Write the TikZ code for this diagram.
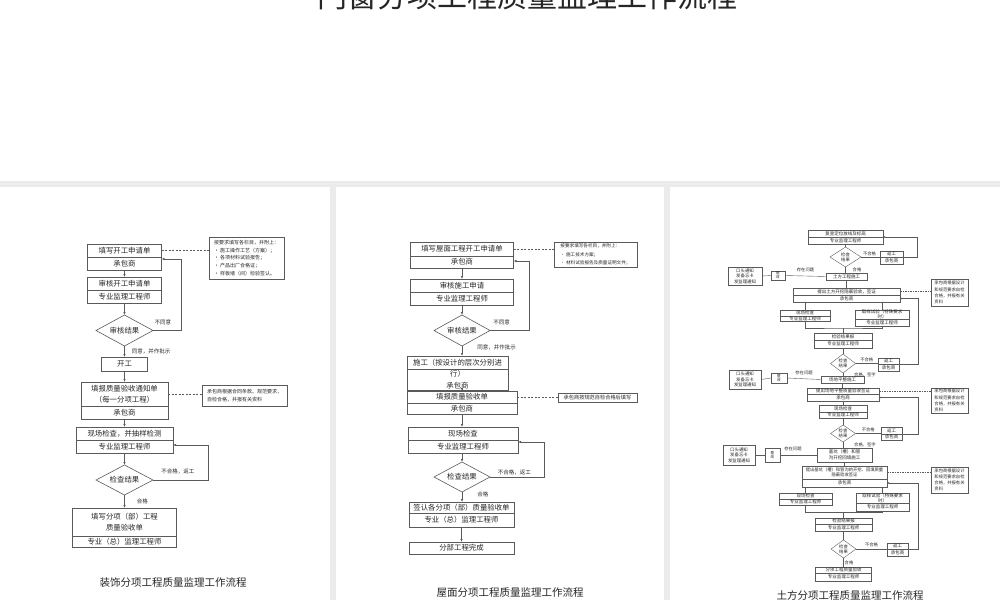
\documentclass[tikz,border=0pt]{standalone}
\usepackage{fontspec}
\setmainfont{Noto Sans CJK SC}
\usepackage{tikz}
\usetikzlibrary{positioning,shapes.geometric,arrows.meta}
\definecolor{lc}{HTML}{5A5A5A}
\definecolor{tc}{HTML}{262626}
\definecolor{sepgray}{HTML}{EBEBEB}
\newcommand{\bxfont}{\fontsize{7.4}{11}\selectfont}
\newcommand{\ntfont}{\fontsize{5}{7.6}\selectfont}
\newcommand{\lbfont}{\fontsize{5.5}{6}\selectfont}
\newcommand{\sbfont}{\fontsize{4.5}{5.5}\selectfont}
\newcommand{\slfont}{\fontsize{4.3}{4.8}\selectfont}
\newcommand{\ttlfont}{\fontsize{10.5}{12}\selectfont}

\begin{document}
\begin{tikzpicture}[x=1pt, y=-1pt,
    box/.style = {draw=lc, line width=0.6pt, inner sep=0pt, outer sep=0pt, align=center, font=\bxfont, text=tc},
    sbox/.style = {box, line width=0.4pt, font=\sbfont},
    dia/.style = {diamond, aspect=2, draw=lc, line width=0.6pt, inner sep=0pt, outer sep=0pt, align=center, font=\bxfont, text=tc},
    sdia/.style = {dia, aspect=1.3, line width=0.4pt, font=\slfont},
    note/.style = {box, align=left, font=\ntfont},
    snote/.style = {sbox, align=left, font=\fontsize{4.3}{6.2}\selectfont},
    lbl/.style = {inner sep=0pt, font=\lbfont, text=tc},
    slbl/.style = {inner sep=0pt, font=\slfont, text=tc},
    arr/.style = {draw=lc, line width=0.6pt, -{Latex[length=3pt, width=2.4pt]}},
    sline/.style = {draw=lc, line width=0.4pt},
    sarr/.style = {sline, -{Latex[length=2.2pt, width=2pt]}},
    dline/.style = {draw=lc, line width=0.4pt, dash pattern=on 2pt off 1.5pt},
    sdline/.style = {dline, dash pattern=on 1.5pt off 1pt},
    ttl/.style = {inner sep=0pt, font=\ttlfont, text=tc}
  ]

  \useasboundingbox (0,0) rectangle (1000,600);

  % page title and separators
  \node[ttl, font=\fontsize{30}{32}\selectfont, anchor=base] (title) at (527,7) {门窗分项工程质量监理工作流程};
  \fill[sepgray] (0,181) rectangle (1000,187);
  \fill[sepgray] (330,181) rectangle (336,600);
  \fill[sepgray] (664,181) rectangle (670,600);

  % ---------------- 装饰 ----------------
  \node[box, minimum width=74, minimum height=13] (p1a) at (124.5,250.5) {填写开工申请单};
  \node[box, minimum width=74, minimum height=13, below=0pt of p1a] (p1ab) {承包商};
  \node[box, minimum width=74, minimum height=13] (p1b) at (124.5,283.5) {审核开工申请单};
  \node[box, minimum width=74, minimum height=13, below=0pt of p1b] (p1bb) {专业监理工程师};
  \node[dia, minimum width=57, minimum height=31] (p1d1) at (124.5,330.5) {审核结果};
  \node[box, minimum width=46, minimum height=14] (p1c) at (124.5,364) {开工};
  \node[box, minimum width=87, minimum height=24] (p1e) at (124.5,394) {填报质量验收通知单\\（每一分项工程）};
  \node[box, minimum width=87, minimum height=13, below=0pt of p1e] (p1eb) {承包商};
  \node[box, minimum width=97, minimum height=13] (p1f) at (124.5,433.5) {现场检查，并抽样检测};
  \node[box, minimum width=97, minimum height=13, below=0pt of p1f] (p1fb) {专业监理工程师};
  \node[dia, minimum width=57, minimum height=30] (p1d2) at (124.5,480) {检查结果};
  \node[box, minimum width=104, minimum height=28] (p1g) at (124.5,522) {填写分项（部）工程\\质量验收单};
  \node[box, minimum width=104, minimum height=11, below=0pt of p1g] (p1gb) {专业（总）监理工程师};
  \node[note, minimum width=75, minimum height=42] (p1n1) at (246.5,258) {按要求填写各栏目，并附上：\\• 施工操作工艺（方案）；\\• 各项材料试验报告；\\• 产品出厂合格证；\\• 样板墙（间）检验签认。};
  \node[note, minimum width=85, minimum height=21, font=\fontsize{5}{8}\selectfont] (p1n2) at (244.5,395.5) {承包商根据合同条款、规范要求，\\自检合格，并报有关资料};
  \node[ttl] (p1t) at (173,583) {装饰分项工程质量监理工作流程};

  \coordinate (p1k1) at (181,259);
  \coordinate (p1k2) at (208,445);
  \draw[arr] (p1ab.south) -- (p1b.north);
  \draw[arr] (p1bb.south) -- (p1d1.north);
  \draw[arr] (p1d1.south) -- node[lbl, right=7pt] {同意，并作批示} (p1c.north);
  \draw[arr] (p1d1.east) -- node[lbl, above=5pt, pos=0.35] {不同意} (p1d1.east -| p1k1) -- (p1k1) -- (p1ab.east |- p1k1);
  \draw[arr] (p1c.south) -- (p1e.north);
  \draw[arr] (p1eb.south) -- (p1f.north);
  \draw[arr] (p1fb.south) -- (p1d2.north);
  \draw[arr] (p1d2.east) -- node[lbl, above=6pt, pos=0.45] {不合格，返工} (p1d2.east -| p1k2) -- (p1k2) -- (p1fb.east |- p1k2);
  \draw[arr] (p1d2.south) -- node[lbl, right=12pt] {合格} (p1g.north);
  \draw[dline] (p1a.east) -- (p1a.east -| p1n1.west);
  \draw[dline] (p1e.east) -- (p1e.east -| p1n2.west);

  % ---------------- 屋面 ----------------
  \node[box, minimum width=103, minimum height=14] (p2a) at (462,249) {填写屋面工程开工申请单};
  \node[box, minimum width=103, minimum height=12, below=0pt of p2a] (p2ab) {承包商};
  \node[box, minimum width=103, minimum height=13] (p2b) at (462,285.5) {审核施工申请};
  \node[box, minimum width=103, minimum height=13, below=0pt of p2b] (p2bb) {专业监理工程师};
  \node[dia, minimum width=56, minimum height=31] (p2d1) at (462,330.5) {审核结果};
  \node[box, minimum width=101, minimum height=13] (p2c) at (457.5,362.5) {施工（按设计的层次分别进};
  \node[box, minimum width=101, minimum height=21, below=0pt of p2c] (p2cb) {行）\\[1pt]承包商};
  \node[box, minimum width=110, minimum height=12] (p2e) at (462,397) {填报质量验收单};
  \node[box, minimum width=110, minimum height=11, below=0pt of p2e] (p2eb) {承包商};
  \node[box, minimum width=110, minimum height=13] (p2f) at (463,433.5) {现场检查};
  \node[box, minimum width=110, minimum height=13, below=0pt of p2f] (p2fb) {专业监理工程师};
  \node[dia, minimum width=56, minimum height=30] (p2d2) at (462,477) {检查结果};
  \node[box, minimum width=105, minimum height=11] (p2g) at (461.5,507.5) {签认各分项（部）质量验收单};
  \node[box, minimum width=105, minimum height=14, below=0pt of p2g] (p2gb) {专业（总）监理工程师};
  \node[box, minimum width=105, minimum height=12] (p2h) at (461.5,548) {分部工程完成};
  \node[note, minimum width=83, minimum height=25, font=\fontsize{4.6}{8.5}\selectfont] (p2n1) at (595.5,254.5) {按要求填写各栏目，并附上：\\• 施工技术方案；\\• 材料试验报告及质量证明文件；};
  \node[note, minimum width=79, minimum height=9, font=\fontsize{5.2}{6}\selectfont] (p2n2) at (597.5,397.5) {承包商按规范自检合格后填写};
  \node[ttl] (p2t) at (510,593) {屋面分项工程质量监理工作流程};

  \coordinate (p2k1) at (529,261);
  \coordinate (p2k2) at (544,442);
  \draw[arr] (p2ab.south) -- (p2b.north);
  \draw[arr] (p2bb.south) -- (p2d1.north);
  \draw[arr] (p2d1.south) -- node[lbl, right=15pt, yshift=4pt] {同意，并作批示} (p2d1.south |- p2c.north);
  \draw[arr] (p2d1.east) -- node[lbl, above=5pt, pos=0.3] {不同意} (p2d1.east -| p2k1) -- (p2k1) -- (p2ab.east |- p2k1);
  \draw[arr] (p2cb.south -| p2e.north) -- (p2e.north);
  \draw[arr] (p2eb.south) -- (p2eb.south |- p2f.north);
  \draw[arr] (p2fb.south -| p2d2.north) -- (p2d2.north);
  \draw[arr] (p2d2.east) -- node[lbl, above=2pt, pos=0.45] {不合格，返工} (p2d2.east -| p2k2) -- (p2k2) -- (p2fb.east |- p2k2);
  \draw[arr] (p2d2.south) -- node[lbl, right=15pt, yshift=3pt] {合格} (p2d2.south |- p2g.north);
  \draw[arr] (p2gb.south) -- (p2h.north);
  \draw[dline] (p2a.east) -- (p2a.east -| p2n1.west);
  \draw[dline] (p2e.east) -- (p2e.east -| p2n2.west);

  % ---------------- 土方 ----------------
  \node[sbox, minimum width=75, minimum height=7] (p3a) at (845.5,233.5) {复查定位放线及标高};
  \node[sbox, minimum width=75, minimum height=7, below=0pt of p3a] (p3ab) {专业监理工程师};
  \node[sdia, minimum width=31, minimum height=20] (p3d1) at (845.5,257) {检查\\结果};
  \node[sbox, minimum width=23, minimum height=6] (p3r1) at (891.5,254) {返工};
  \node[sbox, minimum width=23, minimum height=7, below=0pt of p3r1] (p3r1b) {承包商};
  \node[sbox, minimum width=41, minimum height=7] (p3b) at (846.5,276.5) {土方工程施工};
  \node[sbox, minimum width=14, minimum height=9, font=\fontsize{3.6}{4.2}\selectfont] (p3z1) at (778,275.5) {整\\改};
  \node[sbox, minimum width=34, minimum height=18, font=\fontsize{4.4}{5.5}\selectfont] (p3k1) at (745,276) {口头通知\\发备忘卡\\发监理通知};
  \node[sbox, minimum width=107, minimum height=7] (p3c) at (846.5,291.5) {提出土方开挖隐蔽验收，签证};
  \node[sbox, minimum width=107, minimum height=7, below=0pt of p3c] (p3cb) {承包商};
  \node[snote, minimum width=37, minimum height=27] (p3n1) at (949.5,292.5) {承包商根据设计\\和规范要求自检\\合格，并报有关\\资料};
  \node[sbox, minimum width=50, minimum height=6] (p3s1) at (805,313) {现场检查};
  \node[sbox, minimum width=50, minimum height=5, below=0pt of p3s1] (p3s1b) {专业监理工程师};
  \node[sbox, minimum width=54, minimum height=9, font=\fontsize{4.5}{4.7}\selectfont] (p3s2) at (882,314.5) {取样试验（特殊要求\\时）};
  \node[sbox, minimum width=54, minimum height=7, below=0pt of p3s2] (p3s2b) {专业监理工程师};
  \node[sbox, minimum width=58, minimum height=7] (p3e) at (843,336.5) {检验结果报};
  \node[sbox, minimum width=58, minimum height=8, below=0pt of p3e] (p3eb) {专业监理工程师};
  \node[sdia, minimum width=25, minimum height=19] (p3d2) at (843,363.5) {检查\\结果};
  \node[sbox, minimum width=21, minimum height=6] (p3r2) at (888.5,361) {返工};
  \node[sbox, minimum width=21, minimum height=7, below=0pt of p3r2] (p3r2b) {承包商};
  \node[sbox, minimum width=43, minimum height=7] (p3f) at (842.5,379.5) {场地平整施工};
  \node[sbox, minimum width=16, minimum height=10, font=\fontsize{3.6}{4.2}\selectfont] (p3z2) at (779,378) {整\\改};
  \node[sbox, minimum width=32, minimum height=19, font=\fontsize{4.4}{5.5}\selectfont] (p3k2) at (745,379.5) {口头通知\\发备忘卡\\发监理通知};
  \node[sbox, minimum width=72, minimum height=6] (p3g) at (843,391) {提出场地平整质量验收签证};
  \node[sbox, minimum width=72, minimum height=7, below=0pt of p3g] (p3gb) {承包商};
  \node[snote, minimum width=37, minimum height=25] (p3n2) at (949.5,400.5) {承包商根据设计\\和规范要求自检\\合格，并报有关\\资料};
  \node[sbox, minimum width=48, minimum height=7] (p3h) at (843,408.5) {现场检查};
  \node[sbox, minimum width=48, minimum height=6, below=0pt of p3h] (p3hb) {专业监理工程师};
  \node[sdia, minimum width=25, minimum height=17] (p3d3) at (843,433.5) {检查\\结果};
  \node[sbox, minimum width=21, minimum height=7] (p3r3) at (891.5,430.5) {返工};
  \node[sbox, minimum width=21, minimum height=6, below=0pt of p3r3] (p3r3b) {承包商};
  \node[sbox, minimum width=55, minimum height=14] (p3i) at (844.5,455) {基坑（槽）和管\\沟开挖回填施工};
  \node[sbox, minimum width=15, minimum height=14, font=\fontsize{3.6}{4.2}\selectfont] (p3z3) at (772.5,455) {整\\改};
  \node[sbox, minimum width=32, minimum height=20, font=\fontsize{4.4}{5.5}\selectfont] (p3k3) at (739,455) {口头通知\\发备忘卡\\发监理通知};
  \node[sbox, minimum width=85, minimum height=13, font=\fontsize{4.3}{5.5}\selectfont] (p3j) at (844.5,472.5) {提出基坑（槽）和管沟的开挖、回填质量\\隐蔽验收签证};
  \node[sbox, minimum width=85, minimum height=8, below=0pt of p3j] (p3jb) {承包商};
  \node[snote, minimum width=37, minimum height=26] (p3n3) at (949.5,480) {承包商根据设计\\和规范要求自检\\合格，并报有关\\资料};
  \node[sbox, minimum width=53, minimum height=6] (p3s3) at (805.5,496) {现场检查};
  \node[sbox, minimum width=53, minimum height=6, below=0pt of p3s3] (p3s3b) {专业监理工程师};
  \node[sbox, minimum width=53, minimum height=10, font=\fontsize{4.5}{4.7}\selectfont] (p3s4) at (882.5,498) {取样试验（特殊要求\\时）};
  \node[sbox, minimum width=53, minimum height=8, below=0pt of p3s4] (p3s4b) {专业监理工程师};
  \node[sbox, minimum width=57, minimum height=6] (p3l) at (843.5,521) {检验结果报};
  \node[sbox, minimum width=57, minimum height=7, below=0pt of p3l] (p3lb) {专业监理工程师};
  \node[sdia, minimum width=25, minimum height=18] (p3d4) at (843.5,549) {检查\\结果};
  \node[sbox, minimum width=21, minimum height=6] (p3r4) at (897.5,546) {返工};
  \node[sbox, minimum width=21, minimum height=7, below=0pt of p3r4] (p3r4b) {承包商};
  \node[sbox, minimum width=56, minimum height=6] (p3m) at (843.5,570) {分项工程质量验收};
  \node[sbox, minimum width=56, minimum height=8, below=0pt of p3m] (p3mb) {专业监理工程师};
  \node[ttl] (p3t) at (850,595) {土方分项工程质量监理工作流程};

  \coordinate (p3q1) at (917,257);
  \coordinate (p3q2) at (918,364);
  \coordinate (p3q3) at (918,434);
  \coordinate (p3q4) at (918,549);
  \coordinate (p3m1) at (843,328);
  \coordinate (p3m2) at (843.5,512);
  % 定位放线
  \draw[sline] (p3ab.south) -- (p3ab.south |- p3d1.north);
  \draw[sline] (p3d1.east) -- node[slbl, above=0.5pt, pos=0.45] {不合格} (p3d1.east -| p3r1b.west);
  \draw[sarr] (p3r1b.north east) -- (p3q1) |- (p3ab.north east);
  \draw[sline] (p3d1.south) -- node[slbl, right=7pt] {合格} (p3d1.south |- p3b.north);
  \draw[sline] (p3b.west) -- node[slbl, above=4pt] {存在问题} (p3z1.east);
  \draw[sline] (p3z1.west) -- (p3k1.east);
  % 土方开挖
  \draw[sline] (p3b.south) -- (p3b.south |- p3c.north);
  \draw[dline, sdline] (p3c.east) -- (p3c.east -| p3n1.west);
  \draw[sline] (p3cb.south -| p3s1.north) -- (p3s1.north);
  \draw[sline] (p3cb.south -| p3s2.north) -- (p3s2.north);
  \draw[sline] (p3s1b.south) |- (p3m1) -| (p3s2b.south);
  \draw[sline] (p3m1) -- (p3m1 |- p3e.north);
  \draw[sline] (p3eb.south) -- (p3eb.south |- p3d2.north);
  \draw[sline] (p3d2.east) -- node[slbl, above=1.5pt] {不合格} (p3d2.east -| p3r2b.west);
  \draw[sarr] (p3r2b.north east) -- (p3q2) |- (p3cb.east);
  \draw[sline] (p3d2.south) -- node[slbl, right=11pt] {合格，签字} (p3d2.south |- p3f.north);
  \draw[sline] (p3f.west) -- node[slbl, above=4pt] {存在问题} (p3z2.east);
  \draw[sline] (p3z2.west) -- (p3k2.east);
  % 场地平整
  \draw[sline] (p3f.south) -- (p3f.south |- p3g.north);
  \draw[sdline] (p3g.east) -- (p3g.east -| p3n2.west);
  \draw[sline] (p3gb.south) -- (p3gb.south |- p3h.north);
  \draw[sline] (p3hb.south) -- (p3hb.south |- p3d3.north);
  \draw[sline] (p3d3.east) -- node[slbl, above=1.5pt] {不合格} (p3d3.east -| p3r3b.west);
  \draw[sarr] (p3r3b.north east) -- (p3q3) |- (p3gb.east);
  \draw[sline] (p3d3.south) -- node[slbl, right=11pt] {合格，签字} (p3d3.south |- p3i.north);
  \draw[sline] (p3i.west) -- node[slbl, above=4pt, pos=0.65] {存在问题} (p3z3.east);
  \draw[sline] (p3z3.west) -- (p3k3.east);
  % 基坑管沟
  \draw[sline] (p3i.south) -- (p3i.south |- p3j.north);
  \draw[sdline] (p3j.east) -- (p3j.east -| p3n3.west);
  \draw[sline] (p3jb.south -| p3s3.north) -- (p3s3.north);
  \draw[sline] (p3jb.south -| p3s4.north) -- (p3s4.north);
  \draw[sline] (p3s3b.south) |- (p3m2) -| (p3s4b.south);
  \draw[sline] (p3m2) -- (p3m2 |- p3l.north);
  \draw[sline] (p3lb.south) -- (p3lb.south |- p3d4.north);
  \draw[sline] (p3d4.east) -- node[slbl, above=1.5pt] {不合格} (p3d4.east -| p3r4b.west);
  \draw[sarr] (p3r4b.north east) -- (p3q4) |- (p3jb.east);
  \draw[sline] (p3d4.south) -- node[slbl, right=1pt] {合格} (p3d4.south |- p3m.north);

\end{tikzpicture}
\end{document}
